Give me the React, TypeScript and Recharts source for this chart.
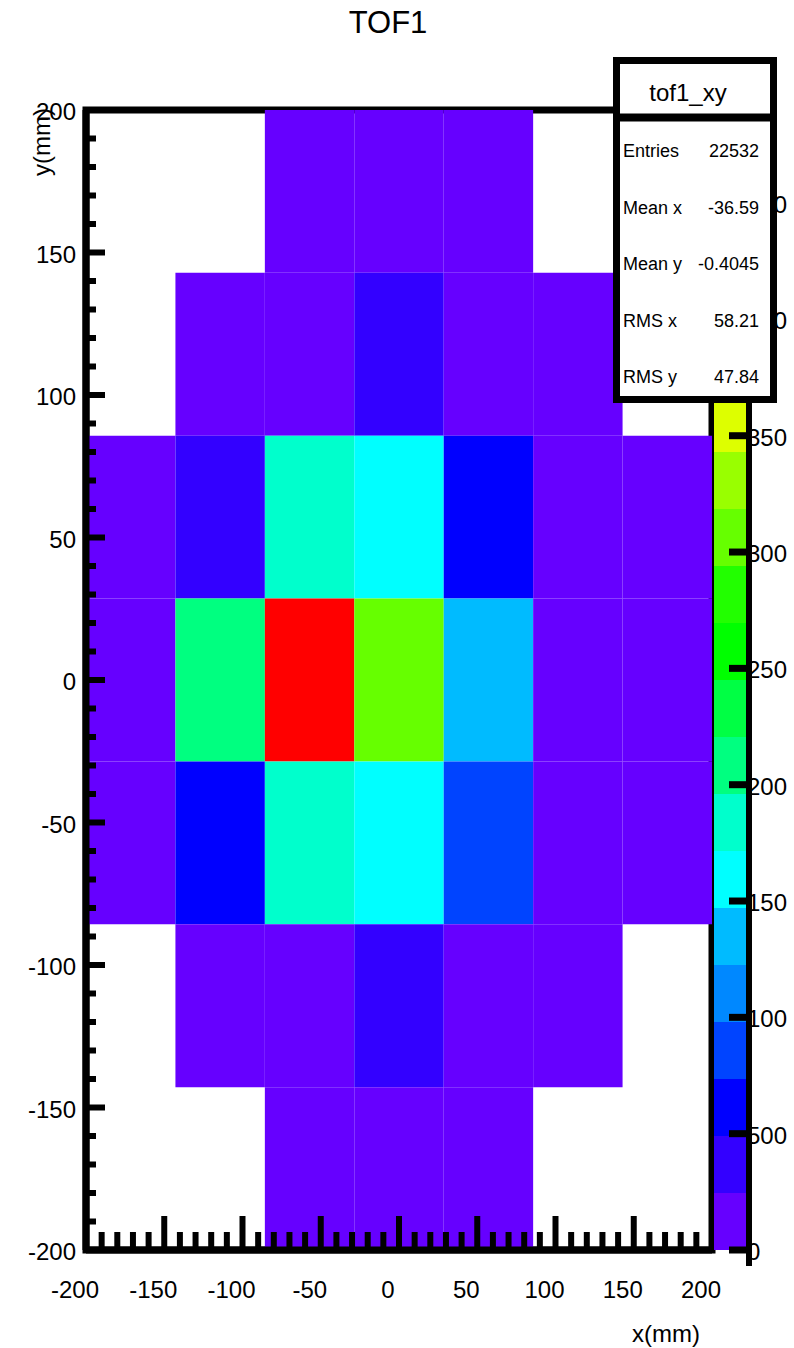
import React from 'react'
import { ComposedChart, XAxis, YAxis, ReferenceArea } from 'recharts'

const W = 794
const H = 1348
const FONT = '"Liberation Sans", Arial, Helvetica, sans-serif'

// 7 x 7 bins over +-200 mm in both x and y
const nBins = 7
const axisMin = -200
const axisMax = 200

// bin contents, one array per y row, from the top row (y ~ +200) down to the bottom row
const rowTop = [0, 0, 12, 15, 10, 0, 0]
const rowUpper = [0, 14, 18, 36, 20, 11, 0]
const rowAbove = [8, 40, 185, 160, 62, 20, 9]
const rowCentre = [12, 205, 490, 305, 135, 22, 10]
const rowBelow = [9, 60, 182, 158, 85, 19, 8]
const rowLower = [0, 13, 17, 33, 18, 10, 0]
const rowBottom = [0, 0, 11, 14, 9, 0, 0]
const rows = [rowTop, rowUpper, rowAbove, rowCentre, rowBelow, rowLower, rowBottom]

// colour palette: 20 contour levels from 0 to the maximum bin content
const zMax = 490
const levelColors = [
  '#6600ff', '#3300ff', '#0000ff', '#0044ff', '#0088ff',
  '#00bbff', '#00ffff', '#00ffcc', '#00ff80', '#00ff44',
  '#00ff00', '#22ff00', '#66ff00', '#99ff00', '#ddff00',
  '#ffee00', '#ffbb00', '#ff8800', '#ff4400', '#ff0000',
]

// axis ticks
const xMajorTicks = [-200, -150, -100, -50, 0, 50, 100, 150, 200]
const yMajorTicks = [-200, -150, -100, -50, 0, 50, 100, 150, 200]
const minorStep = 10
const zTicks = [0, 50, 100, 150, 200, 250, 300, 350, 400, 450]
const zTickLabels = ['0', '500', '100', '150', '200', '250', '300', '350', '400', '450']

// statistics box
const histName = 'tof1_xy'
const statNames = ['Entries', 'Mean x', 'Mean y', 'RMS x', 'RMS y']
const statValues = ['22532', '-36.59', '-0.4045', '58.21', '47.84']

const binWidth = (axisMax - axisMin) / nBins
const nLevels = levelColors.length
const levelWidth = zMax / nLevels

const allTicks: number[] = []
for (let v = axisMin; v <= axisMax; v += minorStep) allTicks.push(v)

const levelOf = (z: number) => Math.min(nLevels - 1, Math.floor(z / levelWidth))

type Cell = { x1: number; x2: number; y1: number; y2: number; z: number }
const cells: Cell[] = []
rows.forEach((row, r) => {
  const yb = nBins - 1 - r
  row.forEach((z, c) => {
    if (z <= 0) return
    cells.push({
      x1: axisMin + c * binWidth,
      x2: axisMin + (c + 1) * binWidth,
      y1: axisMin + yb * binWidth,
      y2: axisMin + (yb + 1) * binWidth,
      z,
    })
  })
})

// one band per contour level for the colour scale
const bands = levelColors.map((color, i) => ({
  pos: 0.5,
  lo: i * levelWidth,
  hi: (i + 1) * levelWidth,
  color,
}))

const XTick = (props: any) => {
  const { x, y, payload } = props
  const v = payload.value
  const major = xMajorTicks.includes(v)
  return (
    <g>
      <line x1={x} x2={x} y1={y} y2={y - (major ? 34 : 18)} stroke="#000" strokeWidth={6} />
      {major && (
        <text x={x - 11} y={y + 48} textAnchor="middle" fontSize={24} fontFamily={FONT} fill="#000">
          {v}
        </text>
      )}
    </g>
  )
}

const YTick = (props: any) => {
  const { x, y, payload } = props
  const v = payload.value
  const major = yMajorTicks.includes(v)
  return (
    <g>
      <line x1={x} x2={x + (major ? 19 : 10)} y1={y} y2={y} stroke="#000" strokeWidth={6} />
      {major && (
        <text x={x - 10} y={y + 10} textAnchor="end" fontSize={24} fontFamily={FONT} fill="#000">
          {v}
        </text>
      )}
    </g>
  )
}

const ZTick = (props: any) => {
  const { x, y, payload, index } = props
  return (
    <g>
      <text x={x - 2} y={y + 10} textAnchor="start" fontSize={24} fontFamily={FONT} fill="#000">
        {zTickLabels[index] ?? payload.value}
      </text>
      <rect x={x - 3} y={y - 16} width={6} height={32} fill="#000" />
      <line x1={x - 20} x2={x} y1={y} y2={y} stroke="#000" strokeWidth={7} />
    </g>
  )
}

function HistogramPanel() {
  return (
    <ComposedChart
      width={W}
      height={H}
      data={cells}
      margin={{ top: 110, right: 82, bottom: 68, left: 26 }}
    >
      {/* frame; cells are painted over its inner half */}
      <ReferenceArea
        x1={axisMin}
        x2={axisMax}
        y1={axisMin}
        y2={axisMax}
        fill="none"
        stroke="#000"
        strokeWidth={7}
      />
      {cells.map((c, i) => (
        <ReferenceArea
          key={i}
          x1={c.x1}
          x2={c.x2}
          y1={c.y1}
          y2={c.y2}
          fill={levelColors[levelOf(c.z)]}
          fillOpacity={1}
          stroke="none"
        />
      ))}
      <XAxis
        type="number"
        dataKey="x1"
        domain={[axisMin, axisMax]}
        ticks={allTicks}
        interval={0}
        height={30}
        tickSize={0}
        tickMargin={0}
        allowDataOverflow
        axisLine={{ stroke: '#000', strokeWidth: 7 }}
        tickLine={false}
        tick={(p: any) => <XTick {...p} />}
      />
      <YAxis
        type="number"
        dataKey="y1"
        domain={[axisMin, axisMax]}
        ticks={allTicks}
        interval={0}
        width={60}
        tickSize={0}
        tickMargin={0}
        allowDataOverflow
        axisLine={{ stroke: '#000', strokeWidth: 7 }}
        tickLine={false}
        tick={(p: any) => <YTick {...p} />}
      />
    </ComposedChart>
  )
}

function PalettePanel() {
  return (
    <ComposedChart
      width={W}
      height={H}
      data={bands}
      margin={{ top: 110, right: 5, bottom: 98, left: 714 }}
    >
      {bands.map((b, i) => (
        <ReferenceArea
          key={i}
          x1={0}
          x2={1}
          y1={b.lo}
          y2={b.hi}
          fill={b.color}
          fillOpacity={1}
          stroke="none"
        />
      ))}
      <XAxis type="number" dataKey="pos" domain={[0, 1]} allowDataOverflow hide />
      <YAxis
        type="number"
        dataKey="hi"
        orientation="right"
        domain={[0, zMax]}
        ticks={zTicks}
        interval={0}
        width={40}
        tickSize={0}
        tickMargin={0}
        allowDataOverflow
        axisLine={{ stroke: '#000', strokeWidth: 6 }}
        tickLine={false}
        tick={(p: any) => <ZTick {...p} />}
      />
    </ComposedChart>
  )
}

function Annotations() {
  const boxX = 613
  const boxY = 57
  const boxW = 164
  const boxH = 346
  const rowBase = [157, 214, 270, 327, 383]
  return (
    <svg width={W} height={H} style={{ position: 'absolute', left: 0, top: 0 }}>
      <text x={388} y={33} textAnchor="middle" fontSize={31} fontFamily={FONT} fill="#000">
        TOF1
      </text>
      <text x={700} y={1342} textAnchor="end" fontSize={24} fontFamily={FONT} fill="#000">
        x(mm)
      </text>
      <text
        x={50}
        y={108}
        textAnchor="end"
        fontSize={24}
        fontFamily={FONT}
        fill="#000"
        transform="rotate(-90 50 108)"
      >
        y(mm)
      </text>

      {/* statistics box */}
      <rect
        x={boxX + 3.5}
        y={boxY + 3.5}
        width={boxW - 7}
        height={boxH - 7}
        fill="#fff"
        stroke="#000"
        strokeWidth={7}
      />
      <line x1={boxX} x2={boxX + boxW} y1={117.5} y2={117.5} stroke="#000" strokeWidth={8} />
      <text x={688} y={101} textAnchor="middle" fontSize={24} fontFamily={FONT} fill="#000">
        {histName}
      </text>
      {statNames.map((name, i) => (
        <g key={name}>
          <text x={623} y={rowBase[i]} fontSize={18} fontFamily={FONT} fill="#000">
            {name}
          </text>
          <text x={759} y={rowBase[i]} textAnchor="end" fontSize={18} fontFamily={FONT} fill="#000">
            {statValues[i]}
          </text>
        </g>
      ))}
    </svg>
  )
}

export default function App() {
  return (
    <div style={{ position: 'absolute', left: 0, top: 0, width: W, height: H, background: '#fff' }}>
      <div style={{ position: 'absolute', left: 0, top: 0 }}>
        <HistogramPanel />
      </div>
      <div style={{ position: 'absolute', left: 0, top: 0 }}>
        <PalettePanel />
      </div>
      <Annotations />
    </div>
  )
}
